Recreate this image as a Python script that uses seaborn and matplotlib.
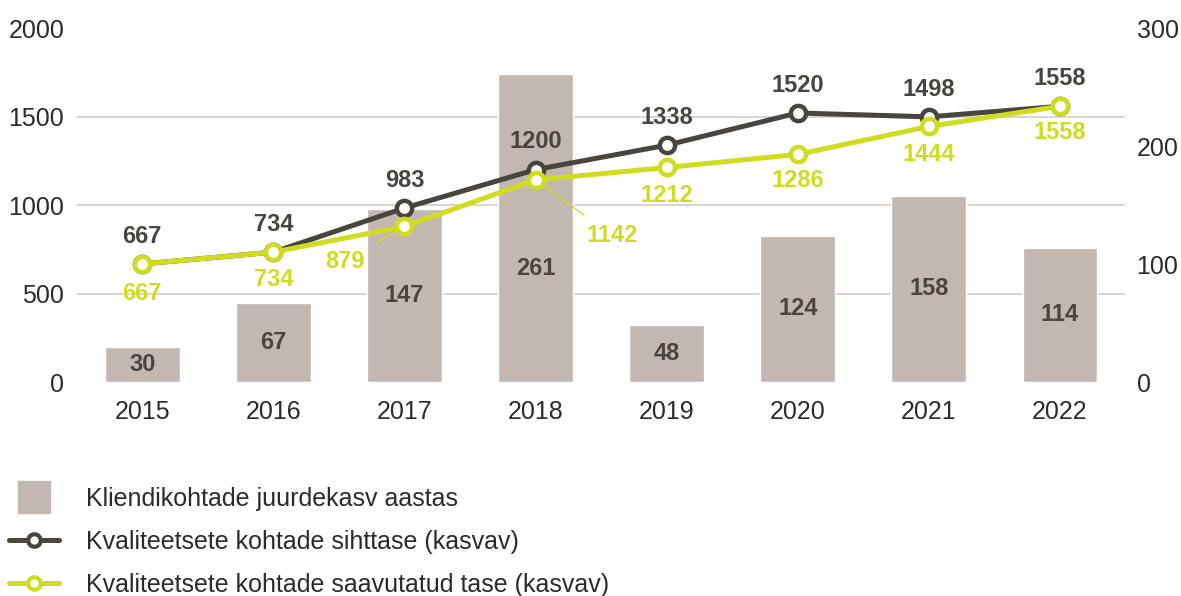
import seaborn as sns
import pandas as pd
import matplotlib.pyplot as plt
import numpy as np
from matplotlib.lines import Line2D

years = ['2015', '2016', '2017', '2018', '2019', '2020', '2021', '2022']
new_places = [30, 67, 147, 261, 48, 124, 158, 114]
target_level = [667, 734, 983, 1200, 1338, 1520, 1498, 1558]
achieved_level = [667, 734, 879, 1142, 1212, 1286, 1444, 1558]

bar_name = 'Kliendikohtade juurdekasv aastas'
target_name = 'Kvaliteetsete kohtade sihttase (kasvav)'
achieved_name = 'Kvaliteetsete kohtade saavutatud tase (kasvav)'

bar_color = '#c2b7b1'
dark = '#48443e'
green = '#cfdd1f'
text_color = '#2b2b2b'

sns.set_theme(style='white')
plt.rcParams['font.family'] = ['Liberation Sans', 'DejaVu Sans']

df = pd.DataFrame({'year': years, 'new': new_places,
                   'target': target_level, 'achieved': achieved_level})
df['pos'] = np.arange(len(df))

fig = plt.figure(figsize=(11.81, 5.96), dpi=100)
ax = fig.add_axes([0.065, 0.359, 0.888, 0.594])

# bars on the right-hand scale
sns.barplot(data=df, x='year', y='new', color=bar_color, width=0.57,
            saturation=1, ax=ax, zorder=2)
ax.set_ylim(0, 300)
ax.set_yticks([0, 100, 200, 300])
# grid follows the left scale (0..2000 by 500)
ax.set_yticks(np.linspace(0, 300, 5), minor=True)
ax.grid(which='minor', axis='y', color='#d6d2ce', lw=1.3, zorder=0)
ax.grid(which='major', visible=False)
ax.set_xlim(-0.5, len(years) - 0.5)
ax.set_xlabel('')
ax.set_ylabel('')

label_frac = [0.5, 0.5, 0.5, 0.37, 0.5, 0.5, 0.5, 0.5]
for i, v in enumerate(new_places):
    ax.text(i, v * label_frac[i], str(v), ha='center', va='center',
            fontsize=17, fontweight='bold', color='#4a4541', zorder=3)

# lines on the left-hand scale
ax2 = ax.twinx()
line_kw = dict(marker='o', markersize=11, markerfacecolor='white',
               markeredgewidth=3.2, linewidth=3.6)
sns.lineplot(data=df, x='pos', y='target', color=dark, markeredgecolor=dark,
             ax=ax2, zorder=4, **line_kw)
sns.lineplot(data=df, x='pos', y='achieved', color=green, markeredgecolor=green,
             ax=ax2, zorder=5, **line_kw)
ax2.set_ylim(0, 2000)
ax2.set_yticks([0, 500, 1000, 1500, 2000])
ax2.set_xlim(-0.5, len(years) - 0.5)
ax2.set_xlabel('')
ax2.set_ylabel('')
ax2.grid(False)

# swap sides: bar scale on the right, line scale on the left
ax.yaxis.tick_right()
ax2.yaxis.tick_left()

for i, v in enumerate(target_level):
    ax2.annotate(str(v), (i, v), xytext=(0, 20), textcoords='offset points',
                 ha='center', va='center', fontsize=17, fontweight='bold', color=dark)

green_offsets = [(0, -21), (0, -20), (-43, -25), (55, -40),
                 (0, -20), (0, -19), (0, -20), (0, -19)]
for i, v in enumerate(achieved_level):
    dx, dy = green_offsets[i]
    arrow = None
    if dx != 0:
        arrow = dict(arrowstyle='-', color=green, lw=0.9, shrinkA=7, shrinkB=7)
    ax2.annotate(str(v), (i, v), xytext=(dx, dy), textcoords='offset points',
                 ha='center', va='center', fontsize=17, fontweight='bold',
                 color=green, arrowprops=arrow)

for a in (ax, ax2):
    sns.despine(ax=a, left=True, right=True, top=True, bottom=True)
    a.tick_params(axis='both', which='both', length=0, labelsize=18,
                  labelcolor=text_color)
ax.tick_params(axis='x', pad=13)
ax.tick_params(axis='y', pad=8)
ax2.tick_params(axis='y', pad=9)

handles = [
    Line2D([], [], linestyle='none', marker='s', markersize=23,
           markerfacecolor=bar_color, markeredgecolor=bar_color),
    Line2D([], [], color=dark, lw=3.6, marker='o', markersize=9,
           markerfacecolor='white', markeredgecolor=dark, markeredgewidth=3),
    Line2D([], [], color=green, lw=3.6, marker='o', markersize=9,
           markerfacecolor='white', markeredgecolor=green, markeredgewidth=3),
]
fig.legend(handles, [bar_name, target_name, achieved_name],
           loc='upper left', bbox_to_anchor=(0.008, 0.183), frameon=False,
           fontsize=18, handlelength=2.0, handletextpad=1.05,
           labelspacing=0.76, borderpad=0, borderaxespad=0,
           labelcolor=text_color)

fig.savefig('out.png', dpi=100)
